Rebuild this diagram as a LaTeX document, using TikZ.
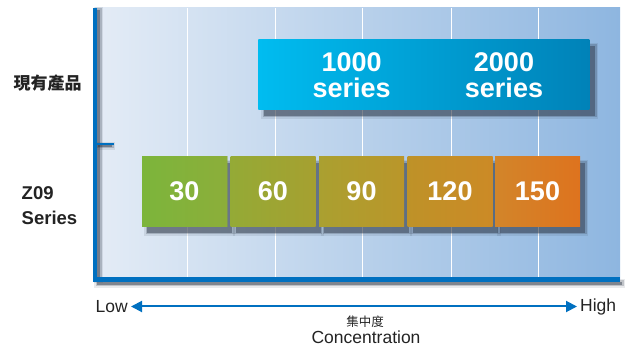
\documentclass[tikz,border=0pt]{standalone}
\usepackage{fontspec}
\setmainfont{Liberation Sans}
\newfontfamily\cjk{Noto Sans CJK TC}
\usetikzlibrary{arrows.meta}
\definecolor{axisblue}{RGB}{0,112,192}
\definecolor{bgl}{RGB}{228,236,246}
\definecolor{bgr}{RGB}{142,182,224}
\definecolor{shadowc}{RGB}{40,50,66}
\definecolor{cyanl}{RGB}{0,188,240}
\definecolor{cyanr}{RGB}{0,130,184}
\definecolor{ga}{RGB}{124,181,59}
\definecolor{gb}{RGB}{140,174,58}
\definecolor{gc}{RGB}{148,170,54}
\definecolor{gd}{RGB}{166,160,48}
\definecolor{ge}{RGB}{170,160,48}
\definecolor{gf}{RGB}{186,150,42}
\definecolor{gg}{RGB}{190,146,40}
\definecolor{gh}{RGB}{204,138,38}
\definecolor{gi}{RGB}{210,133,42}
\definecolor{gj}{RGB}{222,115,30}
\definecolor{txt}{RGB}{35,35,35}
\newcommand\softshadow[4]{%
  \foreach \i/\o in {0/0.42,1.5/0.22,3/0.10}{%
    \fill[shadowc,opacity=\o] (#1-\i,#2-\i) rectangle (#3+\i,#4+\i);}}
\begin{document}
\begin{tikzpicture}[x=1pt,y=-1pt,
  sidelabel/.style={text=txt,font=\bfseries\fontsize{18.5}{25}\selectfont,align=left},
  axislabel/.style={text=txt,font=\fontsize{17.5}{20}\selectfont,inner sep=3pt},
  bluebox/.style={left color=cyanl,right color=cyanr,minimum width=331pt,minimum height=70pt,inner sep=0pt},
  seriestext/.style={text=white,font=\bfseries\fontsize{27}{26}\selectfont,align=center},
  greenbox/.style={minimum width=85pt,minimum height=70pt,inner sep=0pt,text=white,font=\bfseries\fontsize{27}{30}\selectfont}]
\useasboundingbox (0,0) rectangle (629,347);
% background
\shade[left color=bgl,right color=bgr] (95,8) rectangle (620,280);
\foreach \x in {187,275,362,451,538}
  \draw[white,line width=1pt] (\x,8) -- (\x,278);
% axis shadows
\softshadow{97}{10}{100}{280}
\softshadow{97}{282}{622}{285}
\softshadow{98}{145}{112}{147}
% axes
\fill[axisblue] (93,8) rectangle (97,282);
\fill[axisblue] (93,277) rectangle (620,282);
\draw[axisblue,line width=2pt] (97,144) -- (114,144);
% top box
\softshadow{264}{46}{595}{116}
\node[bluebox] (top) at (423.8,74.3) {};
\node[seriestext] (s1000) at (351.7,75) {1000\\series};
\node[seriestext] (s2000) at (504,75) {2000\\series};
% green row
\foreach \cx in {184.5,273,361.5,450,537.5}
  \softshadow{\cx-42.5+5}{163}{\cx+42.5+5}{233}
\node[greenbox,left color=ga,right color=gb] (g30) at (184.5,191.7) {30};
\node[greenbox,left color=gc,right color=gd] (g60) at (273,191.7) {60};
\node[greenbox,left color=ge,right color=gf] (g90) at (361.5,191.7) {90};
\node[greenbox,left color=gg,right color=gh] (g120) at (450,191.7) {120};
\node[greenbox,left color=gi,right color=gj] (g150) at (537.5,191.7) {150};
% side labels
\node[text=txt,font=\cjk\bfseries\fontsize{17}{19}\selectfont] (cur) at (47.5,83) {現有產品};
\node[sidelabel,anchor=west,inner sep=0pt] (z09) at (21.5,206) {Z09\\Series};
% concentration axis
\node[axislabel,anchor=east] (low) at (131,306.5) {Low};
\node[axislabel,anchor=west] (high) at (577,306.5) {High};
\draw[axisblue,line width=2pt,{Triangle[length=11pt,width=11pt]}-{Triangle[length=11pt,width=11pt]}] (low) -- (high);
\node[text=txt,font=\cjk\fontsize{12.5}{14}\selectfont] (jzd) at (365,321.7) {集中度};
\node[axislabel] (conc) at (366,337) {Concentration};
\end{tikzpicture}
\end{document}
